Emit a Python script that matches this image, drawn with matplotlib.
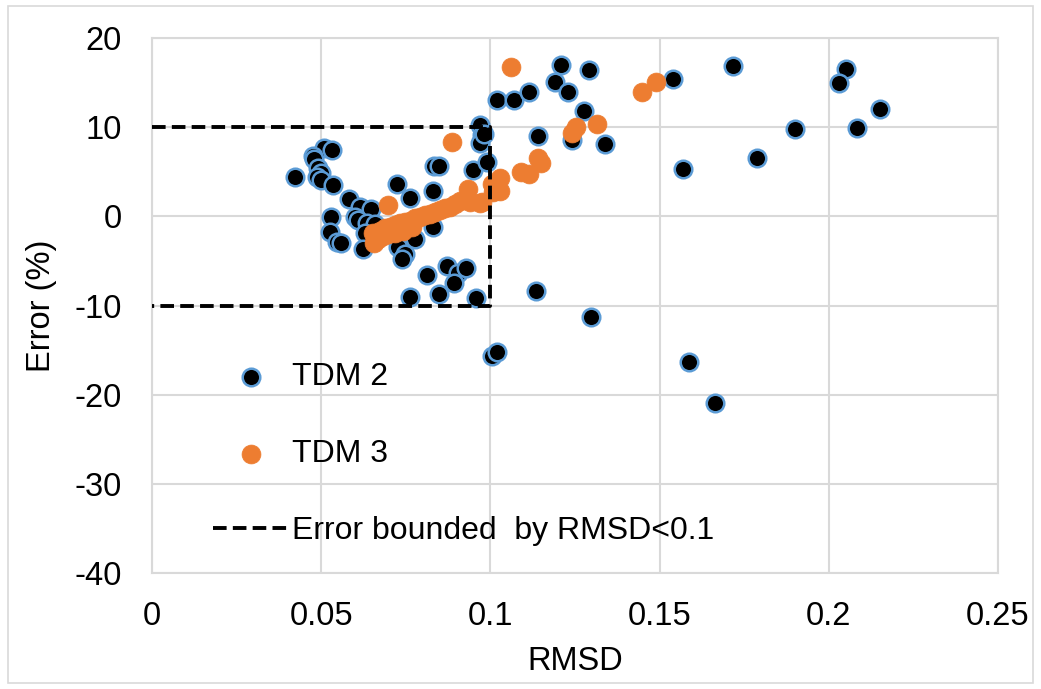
import matplotlib.pyplot as plt
from matplotlib.patches import Rectangle

plt.rcParams['font.family'] = ['Liberation Sans', 'DejaVu Sans']
plt.rcParams['axes.unicode_minus'] = False

# TDM 2 (black dots, blue edge)
tdm2_x = [0.0423, 0.0508, 0.0532, 0.0476, 0.0480, 0.0490, 0.0500, 0.0488, 0.0500, 0.0535,
          0.0582, 0.0615, 0.0647, 0.0600, 0.0610, 0.0635, 0.0660, 0.0530, 0.0526, 0.0547,
          0.0558, 0.0630, 0.0623, 0.0724, 0.0762, 0.0830, 0.0833, 0.0848, 0.0949, 0.0990,
          0.0970, 0.0975, 0.0970, 0.0830, 0.0777, 0.0727, 0.0748, 0.0739, 0.0813, 0.0872,
          0.0904, 0.0928, 0.0892, 0.0762, 0.0848, 0.0957,
          0.1020, 0.1070, 0.1115, 0.1210, 0.1190, 0.1230, 0.1290, 0.1277, 0.1140, 0.1240,
          0.1340, 0.1540, 0.1570, 0.0980, 0.1717, 0.2050, 0.2030, 0.2150, 0.1900, 0.2083,
          0.1787, 0.1587, 0.1664, 0.1005, 0.1020, 0.1297, 0.1135]
tdm2_y = [4.4, 7.7, 7.4, 6.8, 6.4, 5.4, 4.9, 4.4, 4.1, 3.5,
          1.9, 1.0, 0.8, -0.1, -0.4, -0.7, -0.9, -0.1, -1.8, -2.9,
          -3.0, -1.9, -3.7, 3.6, 2.1, 2.8, 5.6, 5.6, 5.2, 6.1,
          10.2, 9.1, 8.2, -1.2, -2.5, -3.4, -4.2, -4.8, -6.6, -5.6,
          -6.3, -5.8, -7.5, -9.1, -8.7, -9.2,
          13.0, 13.0, 14.0, 17.0, 15.1, 13.9, 16.4, 11.8, 9.0, 8.6,
          8.1, 15.4, 5.3, 9.2, 16.9, 16.5, 15.0, 12.0, 9.75, 9.9,
          6.5, -16.3, -20.9, -15.7, -15.2, -11.3, -8.4]

# TDM 3 (orange dots)
tdm3_x = [0.0887, 0.0697, 0.1060, 0.1448, 0.1490, 0.1253, 0.1240, 0.1315, 0.1140, 0.1150,
          0.1090, 0.1114, 0.1028, 0.1005, 0.1028, 0.1008, 0.0975, 0.0934, 0.0970,
          0.0659, 0.0653, 0.0674, 0.0689, 0.0703, 0.0718, 0.0733, 0.0748, 0.0762, 0.0777,
          0.0792, 0.0807, 0.0822, 0.0836, 0.0851, 0.0866, 0.0880, 0.0895, 0.0910, 0.0940,
          0.0656, 0.0668, 0.0683, 0.0697, 0.0718, 0.0742, 0.0768]
tdm3_y = [8.3, 1.3, 16.7, 13.9, 15.1, 10.0, 9.4, 10.4, 6.5, 6.0,
          5.0, 4.8, 4.3, 3.6, 2.8, 2.7, 1.6, 3.1, 1.5,
          -2.7, -1.9, -1.6, -1.3, -1.2, -1.0, -0.8, -0.6, -0.5, -0.2,
          -0.1, 0.1, 0.3, 0.5, 0.7, 0.9, 1.0, 1.4, 1.7, 1.6,
          -3.0, -2.5, -2.2, -2.0, -1.9, -1.6, -1.2]

# bounding box RMSD < 0.1, error within +-10 %
box_x = [0, 0.1, 0.1, 0]
box_y = [10, 10, -10, -10]

xticks = [0, 0.05, 0.1, 0.15, 0.2, 0.25]
xticklabels = ['0', '0.05', '0.1', '0.15', '0.2', '0.25']
yticks = [-40, -30, -20, -10, 0, 10, 20]

fig = plt.figure(figsize=(10.41, 6.89), dpi=100)
ax = fig.add_axes([0.146, 0.1684, 0.8127, 0.7764])

grid_c = '#d9d9d9'
ax.scatter(tdm2_x, tdm2_y, s=160, c='black', edgecolors='#5b9bd5', linewidths=1.8,
           label='TDM 2', zorder=3)
ax.scatter(tdm3_x, tdm3_y, s=185, c='#ed7d31', edgecolors='#ed7d31', linewidths=0.5,
           label='TDM 3', zorder=4)
ax.plot(box_x, box_y, color='black', lw=2.8, linestyle=(0, (3.5, 1.6)),
        label='Error bounded  by RMSD<0.1', zorder=5)

ax.set_xlim(0, 0.25)
ax.set_ylim(-40, 20)
ax.set_xticks(xticks)
ax.set_xticklabels(xticklabels)
ax.set_yticks(yticks)
ax.tick_params(axis='y', length=0, labelsize=23.5, pad=22)
ax.tick_params(axis='x', length=0, labelsize=23.5, pad=20)
ax.grid(True, color=grid_c, lw=1.5, zorder=0)
ax.set_axisbelow(True)
for s in ax.spines.values():
    s.set_color(grid_c)
    s.set_linewidth(1.5)

ax.set_xlabel('RMSD', fontsize=23.5, labelpad=10)
ax.set_ylabel('Error (%)', fontsize=23.5, labelpad=12)

ax.legend(loc='upper left', bbox_to_anchor=(0.0725, 0.394), frameon=False, fontsize=23,
          labelspacing=1.47, handlelength=2.35, handletextpad=0.12, borderaxespad=0,
          borderpad=0)

fig.patches.append(Rectangle((0.008, 0.008), 0.984, 0.984, transform=fig.transFigure,
                             fill=False, edgecolor=grid_c, lw=1.2))

fig.savefig('out.png', dpi=100)
